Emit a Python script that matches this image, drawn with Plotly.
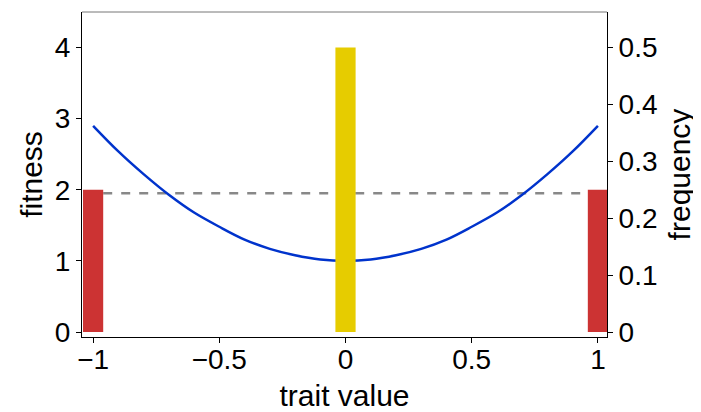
import plotly.graph_objects as go

# data
trait_x = [-1.0, -0.9, -0.8, -0.7, -0.6, -0.5, -0.4, -0.3, -0.2, -0.1, 0.0,
           0.1, 0.2, 0.3, 0.4, 0.5, 0.6, 0.7, 0.8, 0.9, 1.0]
fitness_y = [2.90, 2.54, 2.22, 1.93, 1.68, 1.48, 1.30, 1.17, 1.08, 1.02, 1.00,
             1.02, 1.08, 1.17, 1.30, 1.48, 1.68, 1.93, 2.22, 2.54, 2.90]
mean_fitness = 1.95
mean_x = [-0.96, 0.96]
bar_x = [-1.0, 0.0, 1.0]
bar_freq = [0.25, 0.5, 0.25]
bar_colors = ["#cc3333", "#e6cc00", "#cc3333"]

font = "Liberation Sans, Arial, sans-serif"
tickfont = dict(family=font, size=28, color="black")

fig = go.Figure()
fig.add_trace(go.Bar(x=bar_x, y=bar_freq, width=0.08, marker=dict(color=bar_colors, line_width=0),
                     yaxis="y2", showlegend=False))
fig.add_trace(go.Scatter(x=mean_x, y=[mean_fitness, mean_fitness], mode="lines",
                         line=dict(color="#888888", width=2.5, dash="dash"), showlegend=False))
fig.add_trace(go.Scatter(x=trait_x, y=fitness_y, mode="lines", line=dict(color="#0033cc", width=2.5, shape="spline"),
                         showlegend=False))

fig.update_layout(
    width=693, height=404,
    margin=dict(l=74, r=94, t=4, b=75),
    plot_bgcolor="white", paper_bgcolor="white",
    font=dict(family=font, size=25, color="black"),
    xaxis=dict(range=[-1.044, 1.036], tickvals=[-1, -0.5, 0, 0.5, 1], ticktext=["−1", "−0.5", "0", "0.5", "1"],
               ticks="outside", ticklen=5, tickcolor="black", showline=True, linecolor="black", linewidth=1,
               showgrid=False, zeroline=False, mirror=False, automargin=False, tickfont=tickfont,
               ticklabelstandoff=-8,
               title=dict(text="trait value", standoff=16)),
    yaxis=dict(range=[-0.07, 4.5], tickvals=[0, 1, 2, 3, 4], ticks="outside", ticklen=5, tickcolor="black",
               showline=True, linecolor="black", linewidth=1, showgrid=False, zeroline=False, automargin=False,
               tickfont=tickfont, title=dict(text="fitness", standoff=3)),
    yaxis2=dict(range=[-0.07 / 8, 4.5 / 8], overlaying="y", side="right",
                tickvals=[0, 0.1, 0.2, 0.3, 0.4, 0.5], ticktext=["0", "0.1", "0.2", "0.3", "0.4", "0.5"],
                ticks="outside", ticklen=5, tickcolor="black", automargin=False, tickfont=tickfont,
                showline=True, linecolor="black", linewidth=1, showgrid=False, zeroline=False,
                title=dict(text="frequency", standoff=12)),
    shapes=[dict(type="line", xref="paper", yref="paper", x0=0, x1=1, y0=1, y1=1,
                 line=dict(color="#777777", width=1))],
)

fig.write_html("out.html")
